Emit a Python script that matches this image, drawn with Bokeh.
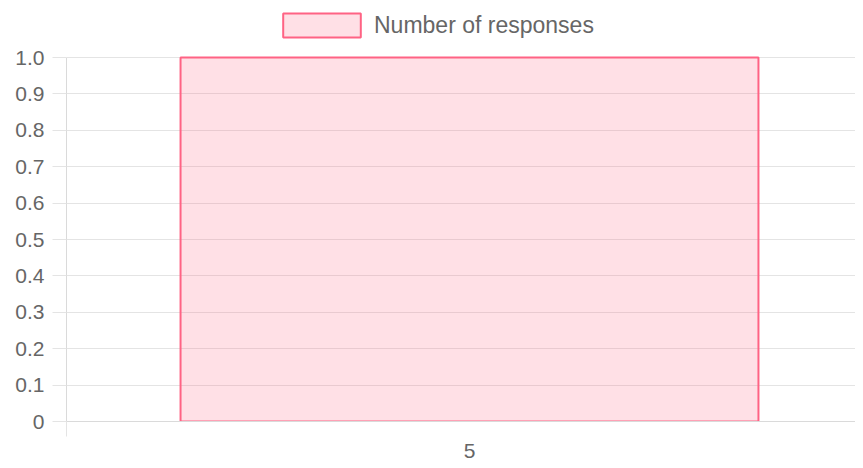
from bokeh.plotting import figure
from bokeh.models import Range1d, FixedTicker, Legend, LegendItem, ColumnDataSource
from bokeh.embed import file_html
from bokeh.resources import INLINE

# ---- data ----
categories = ["5"]
responses = [1]
series_name = "Number of responses"
y_ticks = [0, 0.1, 0.2, 0.3, 0.4, 0.5, 0.6, 0.7, 0.8, 0.9, 1.0]
y_tick_labels = ["0", "0.1", "0.2", "0.3", "0.4", "0.5", "0.6", "0.7", "0.8", "0.9", "1.0"]

idx = list(range(len(categories)))
src = ColumnDataSource(dict(x=idx, top=responses))

TEXT = "#666666"
GRID = "#e4e4e4"
AXIS = "#dadada"
FONT = "Liberation Sans"
PINK = "#ff6384"

# frame covers the legend area too; the value axis is bounded to 0..1
p = figure(width=855, height=460, output_backend="svg", toolbar_location=None,
           x_range=Range1d(-0.5, 0.4789), y_range=Range1d(0, 1.1566),
           min_border_left=66, min_border_right=0, min_border_top=0, min_border_bottom=39)
p.outline_line_color = None
p.background_fill_color = "white"
p.border_fill_color = "white"

r = p.vbar(x="x", top="top", width=0.717, source=src,
           fill_color=PINK, fill_alpha=0.2, line_color=PINK, line_width=2)

# y axis
p.yaxis.ticker = FixedTicker(ticks=y_ticks, minor_ticks=[])
p.yaxis.bounds = (min(y_ticks), max(y_ticks))
p.yaxis.major_label_overrides = dict(zip(y_ticks, y_tick_labels))
p.yaxis.major_label_text_font = FONT
p.yaxis.major_label_text_font_size = "21px"
p.yaxis.major_label_text_color = TEXT
p.yaxis.axis_line_color = AXIS
p.yaxis.major_tick_line_color = GRID
p.yaxis.major_tick_out = 14
p.yaxis.major_tick_in = 0
p.yaxis.major_label_standoff = 8
p.ygrid.ticker = FixedTicker(ticks=y_ticks)
p.ygrid.grid_line_color = GRID

# x axis
p.xaxis.ticker = FixedTicker(ticks=idx, minor_ticks=[i - 0.5 for i in idx])
p.xaxis.major_label_overrides = dict(zip(idx, categories))
p.xaxis.major_label_text_font = FONT
p.xaxis.major_label_text_font_size = "21px"
p.xaxis.major_label_text_color = TEXT
p.xaxis.axis_line_color = AXIS
p.xaxis.major_tick_out = 0
p.xaxis.major_tick_in = 0
p.xaxis.minor_tick_out = 15
p.xaxis.minor_tick_in = 0
p.xaxis.minor_tick_line_color = GRID
p.xaxis.major_label_standoff = 7
p.xgrid.visible = False

legend = Legend(items=[LegendItem(label=series_name, renderers=[r])],
                orientation="horizontal", location=(207, 381),
                glyph_width=97, glyph_height=30, label_standoff=4,
                label_text_font=FONT, label_text_font_size="23px", label_text_color=TEXT,
                border_line_alpha=0, background_fill_alpha=0,
                padding=0, margin=0, spacing=0)
p.add_layout(legend, "center")

open("out.html", "w").write(file_html(p, INLINE))
